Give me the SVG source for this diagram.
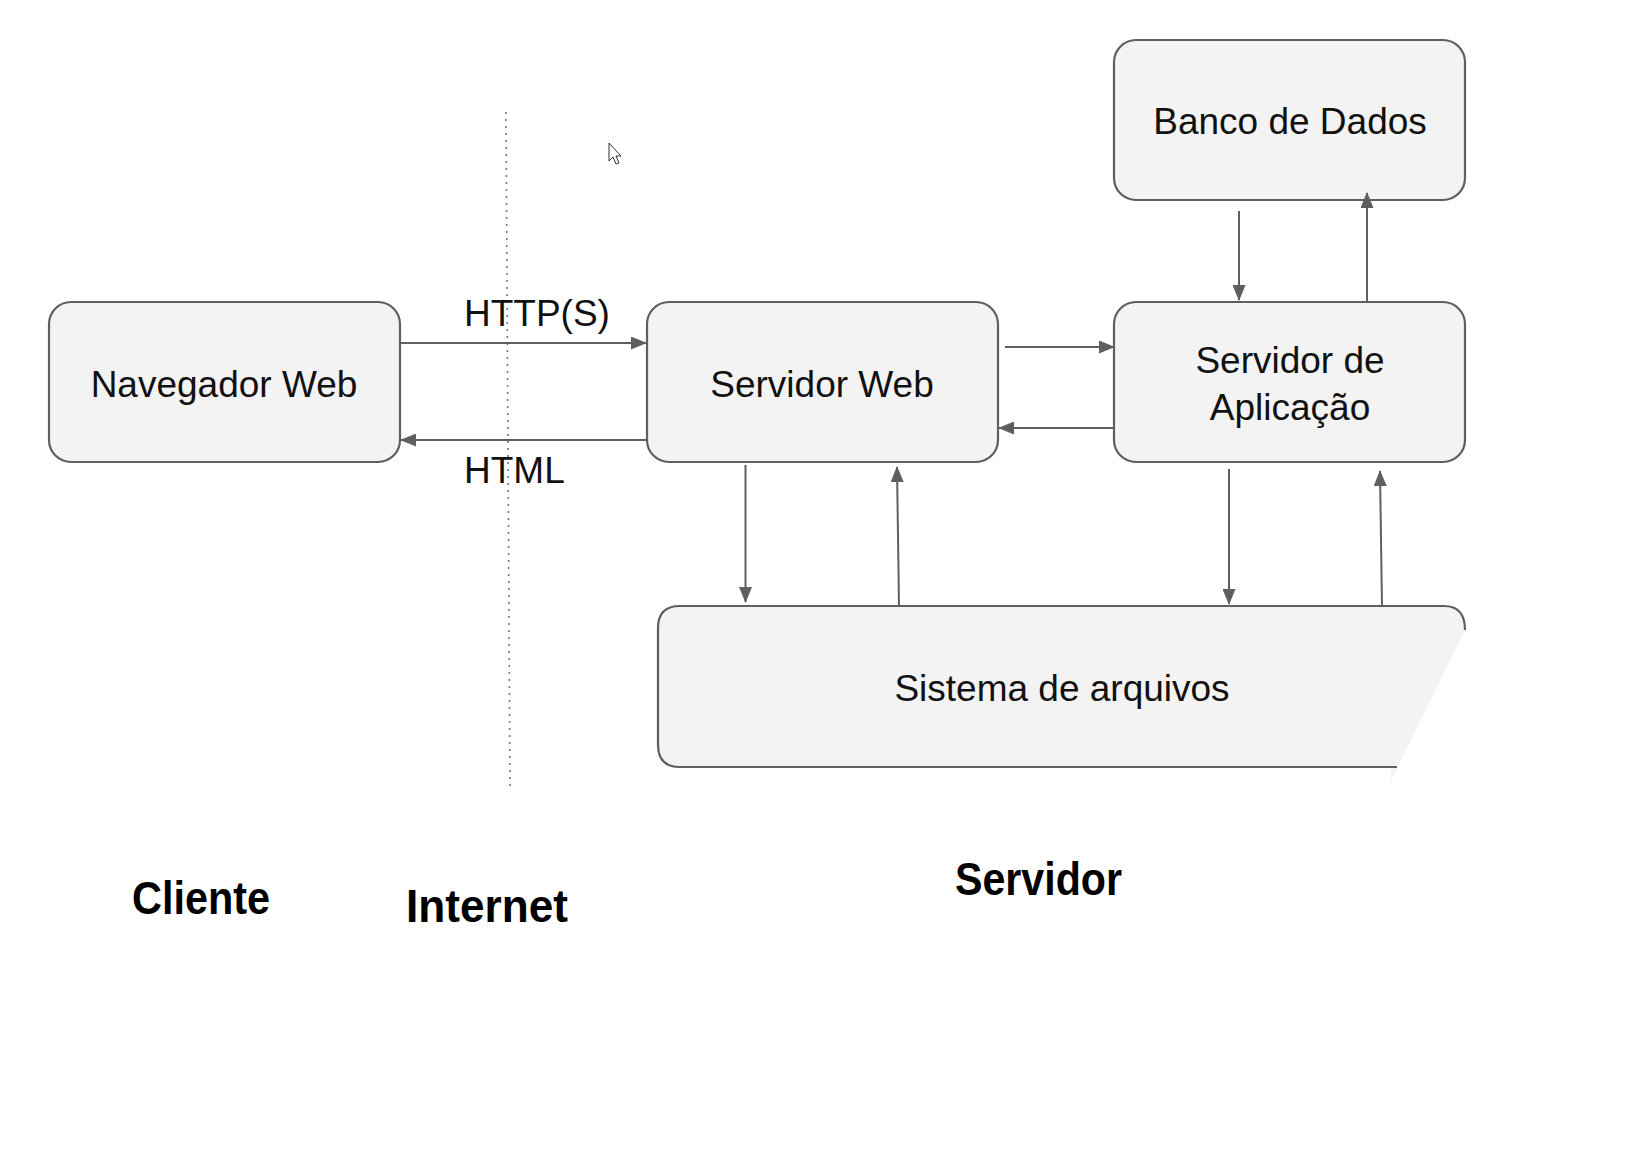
<svg xmlns="http://www.w3.org/2000/svg" width="1628" height="1150" viewBox="0 0 1628 1150">
<defs>
<style>
.box{fill:#f3f3f3;stroke:#5f5f5f;stroke-width:2.2}
.lbl{font-family:"Liberation Sans",Arial,sans-serif;font-size:37px;fill:#111;text-anchor:middle}
.conn{stroke:#5f5f5f;stroke-width:2;fill:none}
.big{font-family:"Liberation Sans",Arial,sans-serif;font-weight:bold;font-size:47px;fill:#000}
</style>
<marker id="ah" viewBox="0 0 16 13" refX="15" refY="6.5" markerWidth="16" markerHeight="13" markerUnits="userSpaceOnUse" orient="auto">
<path d="M0,0 L16,6.5 L0,13 Z" fill="#5f5f5f"/>
</marker>
</defs>
<rect width="1628" height="1150" fill="#fff"/>

<line x1="506" y1="112" x2="510" y2="787" stroke="#777" stroke-width="1.6" stroke-dasharray="2 5"/>

<g id="navegador">
<rect class="box" x="49" y="302" width="351" height="160" rx="22"/>
<text class="lbl" x="224" y="397">Navegador Web</text>
</g>
<g id="servidor-web">
<rect class="box" x="647" y="302" width="351" height="160" rx="22"/>
<text class="lbl" x="822" y="397">Servidor Web</text>
</g>
<g id="servidor-aplicacao">
<rect class="box" x="1114" y="302" width="351" height="160" rx="22"/>
<text class="lbl" x="1290" y="373">Servidor de</text>
<text class="lbl" x="1290" y="420">Aplicação</text>
</g>
<g id="banco">
<rect class="box" x="1114" y="40" width="351" height="160" rx="22"/>
<text class="lbl" x="1290" y="134">Banco de Dados</text>
</g>
<g id="sistema-arquivos">
<path d="M680,606 L1444,606 Q1465,606 1465,630 L1391,781 L1391,767 L680,767 Q658,767 658,745 L658,628 Q658,606 680,606 Z" fill="#f3f3f3"/>
<path class="box" style="fill:none" d="M1397,767 L680,767 Q658,767 658,745 L658,628 Q658,606 680,606 L1444,606 Q1465,606 1465,630"/>
<text class="lbl" x="1062" y="701">Sistema de arquivos</text>
</g>

<g id="connectors">
<line class="conn" x1="400" y1="343" x2="646" y2="343" marker-end="url(#ah)"/>
<line class="conn" x1="647" y1="440" x2="401" y2="440" marker-end="url(#ah)"/>
<line class="conn" x1="1005" y1="347" x2="1114" y2="347" marker-end="url(#ah)"/>
<line class="conn" x1="1114" y1="428" x2="999" y2="428" marker-end="url(#ah)"/>
<line class="conn" x1="1239" y1="211" x2="1239" y2="300" marker-end="url(#ah)"/>
<line class="conn" x1="1367" y1="302" x2="1367" y2="193" marker-end="url(#ah)"/>
<line class="conn" x1="745.5" y1="465" x2="745.5" y2="602" marker-end="url(#ah)"/>
<line class="conn" x1="899" y1="606" x2="897" y2="467" marker-end="url(#ah)"/>
<line class="conn" x1="1229" y1="469" x2="1229" y2="604" marker-end="url(#ah)"/>
<line class="conn" x1="1382" y1="606" x2="1380" y2="471" marker-end="url(#ah)"/>
<text class="lbl" x="464" y="326" style="text-anchor:start">HTTP(S)</text>
<text class="lbl" x="464" y="483" style="text-anchor:start">HTML</text>
</g>

<path d="M609,143 L609,161 L613,157 L616,164 L619,163 L616,156 L621,156 Z" fill="#fff" stroke="#333" stroke-width="1"/>

<text class="big" x="132" y="914" textLength="138" lengthAdjust="spacingAndGlyphs">Cliente</text>
<text class="big" x="406" y="922" textLength="162" lengthAdjust="spacingAndGlyphs">Internet</text>
<text class="big" x="955" y="895" textLength="167" lengthAdjust="spacingAndGlyphs">Servidor</text>
</svg>
